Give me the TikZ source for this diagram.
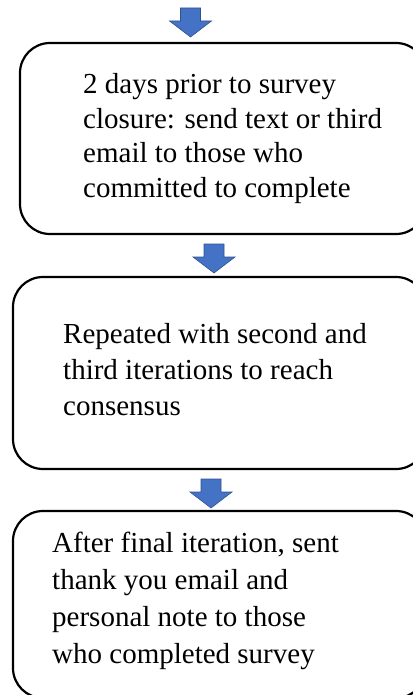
\documentclass[tikz,border=0pt]{standalone}
\usepackage{fontspec}
\setmainfont{Liberation Serif}
\begin{document}
\begin{tikzpicture}[x=1pt,y=-1pt,
  stepbox/.style={draw=black,line width=2.2pt,rounded corners=30pt,fill=white,
    rectangle,inner sep=0pt,outer sep=0pt},
  steptext/.style={anchor=base west,inner sep=0pt,align=left},
  flowarrow/.style={fill=arrowblue,draw=arrowedge,line width=0.6pt,line join=miter}]
\definecolor{arrowblue}{HTML}{4472C4}
\definecolor{arrowedge}{HTML}{2F528F}
\useasboundingbox (0,0) rectangle (412,695);
% block arrow pointing down onto a node: x of the arrow, gap above the node, node, tip name
\newcommand{\downarrowto}[4]{%
  \coordinate[yshift=#2pt] (#4) at (#1,0 |- #3.north);
  \draw[flowarrow] (#4) -- ++(21,-16) -- ++(-11,0) -- ++(0,-13)
    -- ++(-20,0) -- ++(0,13) -- ++(-11,0) -- cycle;}
% boxes (their right side runs past the page edge)
\node[stepbox,minimum width=406pt,minimum height=191pt] (boxA) at (223,138.5) {};
\node[stepbox,minimum width=413pt,minimum height=192pt] (boxB) at (219.5,373) {};
\node[stepbox,minimum width=413pt,minimum height=187pt] (boxC) at (219.5,604.5) {};
% texts (anchored on the baseline of the last line)
\node[steptext,font=\fontsize{29}{34.5}\selectfont] (textA) at (83,197) {2 days prior to survey\\closure: send text or third\\email to those who\\committed to complete};
\node[steptext,font=\fontsize{29}{36}\selectfont] (textB) at (63,415) {Repeated with second and\\third iterations to reach\\consensus};
\node[steptext,font=\fontsize{29}{36.7}\selectfont] (textC) at (52,663) {After final iteration, sent\\thank you email and\\personal note to those\\who completed survey};
% connectors
\downarrowto{190.5}{6}{boxA}{tipA}
\downarrowto{214}{4}{boxB}{tipB}
\downarrowto{211}{3}{boxC}{tipC}
\end{tikzpicture}
\end{document}
